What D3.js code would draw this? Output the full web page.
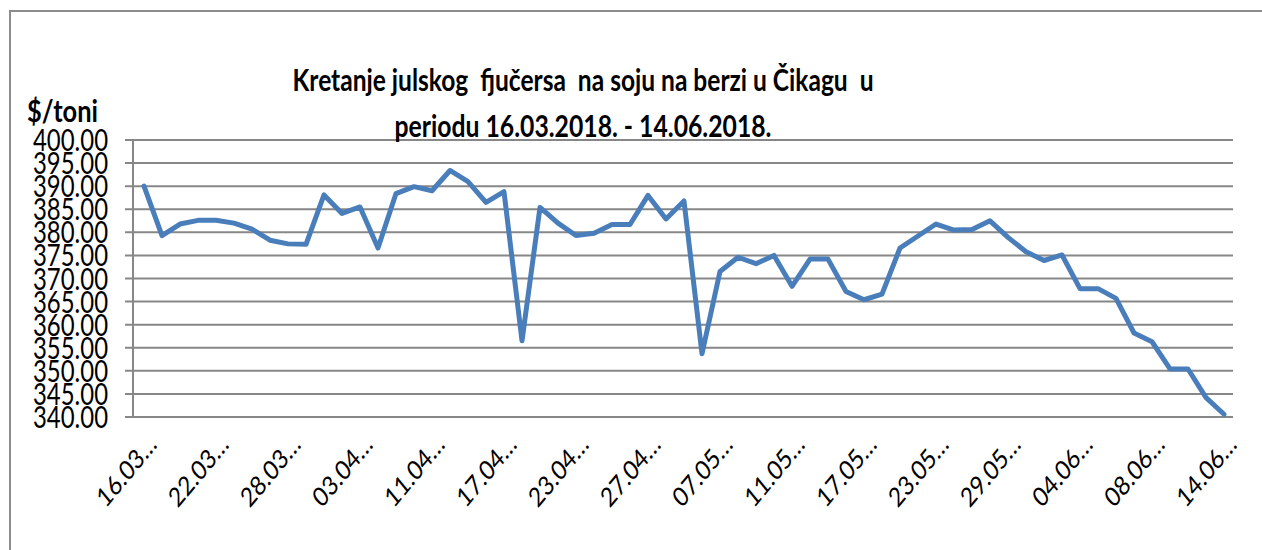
<!DOCTYPE html>
<html>
<head>
<meta charset="utf-8">
<script src="https://cdn.jsdelivr.net/npm/d3@7"></script>
<style>
  html, body { margin: 0; padding: 0; background: #fff; }
  svg { display: block; }
  .grid line { stroke: #878787; stroke-width: 2; }
</style>
</head>
<body>
<div id="chart"></div>
<script>
const dates = [
  "16.03.2018.","19.03.2018.","20.03.2018.","21.03.2018.","22.03.2018.","23.03.2018.",
  "26.03.2018.","27.03.2018.","28.03.2018.","29.03.2018.","30.03.2018.","02.04.2018.",
  "03.04.2018.","04.04.2018.","06.04.2018.","10.04.2018.","11.04.2018.","12.04.2018.",
  "13.04.2018.","16.04.2018.","17.04.2018.","18.04.2018.","19.04.2018.","20.04.2018.",
  "23.04.2018.","24.04.2018.","25.04.2018.","26.04.2018.","27.04.2018.","30.04.2018.",
  "03.05.2018.","04.05.2018.","07.05.2018.","08.05.2018.","09.05.2018.","10.05.2018.",
  "11.05.2018.","14.05.2018.","15.05.2018.","16.05.2018.","17.05.2018.","18.05.2018.",
  "21.05.2018.","22.05.2018.","23.05.2018.","24.05.2018.","25.05.2018.","28.05.2018.",
  "29.05.2018.","30.05.2018.","31.05.2018.","01.06.2018.","04.06.2018.","05.06.2018.",
  "06.06.2018.","07.06.2018.","08.06.2018.","11.06.2018.","12.06.2018.","13.06.2018.",
  "14.06.2018."
];

const prices = [
  390.0, 379.3, 381.8, 382.6, 382.6, 382.0, 380.7, 378.3, 377.5, 377.4,
  388.1, 384.1, 385.5, 376.6, 388.4, 389.9, 389.0, 393.4, 391.0, 386.5,
  388.8, 356.5, 385.4, 382.0, 379.3, 379.8, 381.7, 381.7, 388.0, 382.9,
  386.8, 353.7, 371.5, 374.6, 373.2, 375.0, 368.3, 374.2, 374.2, 367.2,
  365.4, 366.6, 376.6, 379.2, 381.8, 380.5, 380.6, 382.5, 378.9, 375.8,
  373.9, 375.1, 367.8, 367.8, 365.7, 358.2, 356.3, 350.4, 350.4, 344.2,
  340.6
];

const yTicks = [340, 345, 350, 355, 360, 365, 370, 375, 380, 385, 390, 395, 400];

const titleLines = [
  "Kretanje julskog  fjučersa  na soju na berzi u Čikagu  u",
  "periodu 16.03.2018. - 14.06.2018."
];
const yAxisTitle = "$/toni";

const width = 1262;
const height = 550;

const svg = d3.select("#chart")
  .append("svg")
  .attr("width", width)
  .attr("height", height);

// outer chart frame
svg.append("rect")
  .attr("x", 10).attr("y", 11)
  .attr("width", width).attr("height", height)
  .attr("fill", "none")
  .attr("stroke", "#8c8c8c")
  .attr("stroke-width", 2);

const x = d3.scalePoint()
  .domain(dates)
  .range([144, 1224]);

const y = d3.scaleLinear()
  .domain([340, 400])
  .range([417, 140]);

// horizontal gridlines (with the short tick left of the axis)
svg.append("g")
  .attr("class", "grid")
  .selectAll("line")
  .data(yTicks)
  .enter()
  .append("line")
  .attr("x1", 125)
  .attr("x2", 1233)
  .attr("y1", d => y(d))
  .attr("y2", d => y(d));

// vertical axis line
svg.append("line")
  .attr("x1", 133).attr("x2", 133)
  .attr("y1", y(400)).attr("y2", y(340))
  .attr("stroke", "#878787")
  .attr("stroke-width", 2);

// y tick labels (they overlap in the original too)
svg.append("g")
  .selectAll("text")
  .data(yTicks)
  .enter()
  .append("text")
  .attr("x", 108)
  .attr("y", d => y(d) + 11)
  .attr("text-anchor", "end")
  .attr("font-family", "Lato, 'Open Sans', sans-serif")
  .attr("font-size", 31)
  .attr("textLength", 75)
  .attr("lengthAdjust", "spacingAndGlyphs")
  .attr("fill", "#000")
  .text(d3.format(".2f"));

// y axis title
svg.append("text")
  .attr("x", 27)
  .attr("y", 122)
  .attr("font-family", "Lato, 'Open Sans', sans-serif")
  .attr("font-weight", "bold")
  .attr("font-size", 30)
  .attr("textLength", 71)
  .attr("lengthAdjust", "spacingAndGlyphs")
  .text(yAxisTitle);

// chart title
const titleWidths = [581, 377];
const titleBase = [91, 137];
titleLines.forEach((t, i) => {
  svg.append("text")
    .attr("x", 583)
    .attr("y", titleBase[i])
    .attr("text-anchor", "middle")
    .attr("font-family", "Lato, 'Open Sans', sans-serif")
    .attr("font-weight", "bold")
    .attr("font-size", 30)
    .attr("textLength", titleWidths[i])
    .attr("lengthAdjust", "spacingAndGlyphs")
    .attr("xml:space", "preserve")
    .style("white-space", "pre")
    .text(t);
});

// x labels, every 4th category, truncated like the original
// (the source image is stretched vertically, so the 45deg labels look steeper)
const shown = dates.filter((d, i) => i % 4 === 0);
svg.append("g")
  .selectAll("text")
  .data(shown)
  .enter()
  .append("text")
  .attr("transform", d => `translate(${x(d) + 14},446) scale(0.97,1.17) rotate(-45)`)
  .attr("text-anchor", "end")
  .attr("font-family", "Lato, 'Open Sans', sans-serif")
  .attr("font-size", 23)
  .attr("fill", "#000")
  .text(d => d.slice(0, 5) + "…");

// price line
const line = d3.line()
  .x((d, i) => x(dates[i]))
  .y(d => y(d));

svg.append("path")
  .datum(prices)
  .attr("d", line)
  .attr("fill", "none")
  .attr("stroke", "#4a7ebb")
  .attr("stroke-width", 5)
  .attr("stroke-linejoin", "round")
  .attr("stroke-linecap", "round");
</script>
</body>
</html>
